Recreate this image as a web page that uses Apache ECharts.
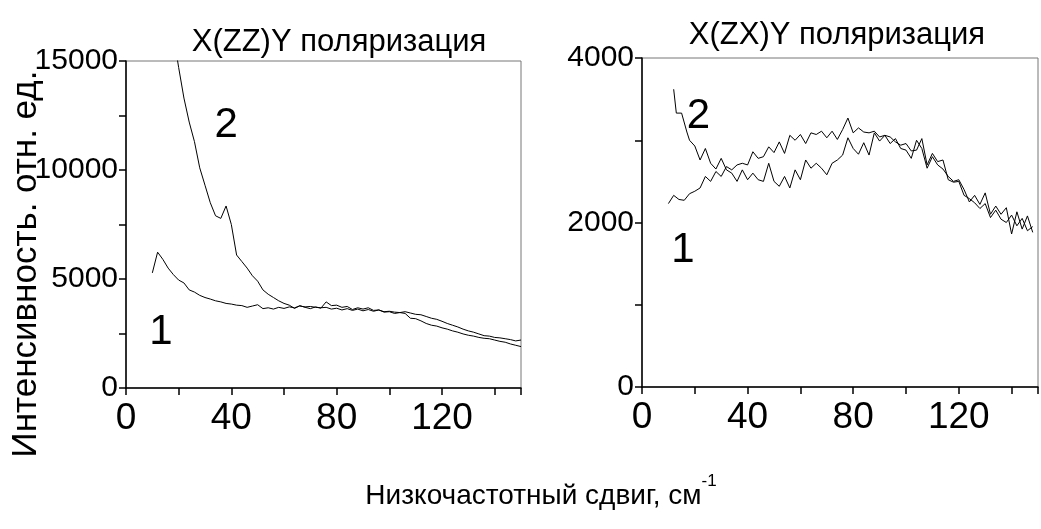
<!DOCTYPE html>
<html>
<head>
<meta charset="utf-8">
<script src="https://cdn.jsdelivr.net/npm/echarts@6/dist/echarts.min.js"></script>
<style>
  html, body { margin: 0; padding: 0; background: #fff; }
  #chart { width: 1041px; height: 529px; }
</style>
</head>
<body>
<div id="chart"></div>
<script>
// left panel, X(ZZ)Y
const leftX1 = [10, 12, 14, 16, 18, 20, 22, 24, 26, 28, 30, 32, 34, 36, 38, 40, 42, 44, 46, 48, 50,
  52, 54, 56, 58, 60, 62, 64, 66, 68, 70, 72, 74, 76, 78, 80, 82, 84, 86, 88, 90, 92, 94, 96, 98, 100,
  102, 104, 106, 108, 110, 112, 114, 116, 118, 120, 122, 124, 126, 128, 130, 132, 134, 136, 138, 140,
  142, 144, 146, 148, 150];
const leftY1 = [5280, 6230, 5900, 5500, 5200, 4950, 4820, 4500, 4400, 4250, 4150, 4080, 4000, 3950, 3880,
  3850, 3800, 3780, 3700, 3760, 3820, 3640, 3680, 3620, 3700, 3650, 3720, 3680, 3760, 3720, 3740, 3700,
  3680, 3700, 3620, 3660, 3580, 3640, 3560, 3620, 3540, 3600, 3520, 3580, 3500, 3520, 3480, 3460, 3420,
  3200, 3180, 3080, 2960, 2880, 2840, 2760, 2700, 2620, 2560, 2480, 2420, 2380, 2320, 2280, 2260, 2200,
  2140, 2100, 2020, 1960, 1900];
const leftX2 = [18, 20, 22, 24, 26, 28, 30, 32, 34, 36, 38, 40, 42, 44, 46, 48, 50, 52, 54, 56, 58, 60,
  62, 64, 66, 68, 70, 72, 74, 76, 78, 80, 82, 84, 86, 88, 90, 92, 94, 96, 98, 100, 102, 104, 106, 108,
  110, 112, 114, 116, 118, 120, 122, 124, 126, 128, 130, 132, 134, 136, 138, 140, 142, 144, 146, 148, 150];
const leftY2 = [16200, 14700, 13300, 12200, 11300, 10100, 9300, 8500, 7900, 7780, 8350, 7500, 6100, 5800,
  5500, 5150, 4900, 4500, 4300, 4150, 4000, 3880, 3800, 3650, 3780, 3700, 3640, 3720, 3660, 3950, 3780,
  3800, 3700, 3740, 3600, 3680, 3620, 3680, 3560, 3580, 3480, 3500, 3420, 3460, 3500, 3440, 3380, 3360,
  3280, 3200, 3150, 3060, 2960, 2880, 2800, 2700, 2620, 2560, 2480, 2400, 2380, 2320, 2300, 2260, 2220,
  2160, 2200];

// right panel, X(ZX)Y
const rightX1 = [10, 12, 14, 16, 18, 20, 22, 24, 26, 28, 30, 32, 34, 36, 38, 40, 42, 44, 46, 48, 50,
  52, 54, 56, 58, 60, 62, 64, 66, 68, 70, 72, 74, 76, 78, 80, 82, 84, 86, 88, 90, 92, 94, 96, 98, 100,
  102, 104, 106, 108, 110, 112, 114, 116, 118, 120, 122, 124, 126, 128, 130, 132, 134, 136, 138, 140,
  142, 144, 146, 148];
const rightY1 = [2230, 2330, 2280, 2270, 2350, 2380, 2420, 2560, 2500, 2620, 2560, 2680, 2640, 2700, 2720,
  2700, 2860, 2780, 2800, 2920, 2850, 2980, 2840, 3060, 3000, 3070, 2960, 3090, 3070, 3110, 3030, 3110,
  3010, 3130, 3270, 3090, 3150, 3100, 3090, 3110, 3040, 3060, 3040, 2980, 2940, 2960, 2870, 2880, 3020,
  2700, 2840, 2740, 2760, 2520, 2490, 2500, 2330, 2290, 2240, 2170, 2230, 2060, 2150, 2040, 2000, 2090,
  1960, 2050, 1900, 1950];
const rightX2 = [12, 13, 15, 17, 18, 20, 22, 24, 26, 28, 30, 32, 34, 36, 38, 40, 42, 44, 46, 48, 50,
  52, 54, 56, 58, 60, 62, 64, 66, 68, 70, 72, 74, 76, 78, 80, 82, 84, 86, 88, 90, 92, 94, 96, 98, 100,
  102, 104, 106, 108, 110, 112, 114, 116, 118, 120, 122, 124, 126, 128, 130, 132, 134, 136, 138, 140,
  142, 144, 146, 148];
const rightY2 = [3620, 3330, 3330, 3100, 3000, 2930, 2760, 2900, 2720, 2650, 2780, 2640, 2600, 2500, 2640,
  2520, 2600, 2520, 2500, 2720, 2500, 2440, 2560, 2420, 2640, 2520, 2760, 2660, 2720, 2660, 2580, 2720,
  2760, 2820, 3030, 2900, 2830, 2970, 2820, 3090, 2990, 3060, 2960, 3020, 2900, 2880, 2780, 3000, 2900,
  2660, 2800, 2700, 2650, 2560, 2500, 2520, 2400, 2250, 2330, 2220, 2360, 2100, 2200, 2100, 2180, 1860,
  2130, 1920, 2080, 1880];

// curve numbers, in data coords [x, y, text]
const leftMarks = [[38, 12050, '2'], [13.3, 2560, '1']];
const rightMarks = [[21.4, 3290, '2'], [15.5, 1660, '1']];

const FONT = "'Liberation Sans', Arial, sans-serif";
const zip = (xs, ys) => xs.map((x, i) => [x, ys[i]]);

const markOpt = marks => ({
  symbol: 'circle',
  symbolSize: 0,
  data: marks.map(m => ({ coord: [m[0], m[1]], value: m[2] })),
  label: { show: true, position: 'inside', formatter: p => p.value, color: '#000', fontSize: 42, fontFamily: FONT }
});

const xAxisOpt = gridIndex => ({
  type: 'value', gridIndex, min: 0, max: 150, interval: 20,
  axisLine: { lineStyle: { color: '#000', width: 1.5 } },
  axisTick: { length: 7, lineStyle: { color: '#000', width: 1.5 } },
  axisLabel: {
    color: '#000', fontSize: 37, fontFamily: FONT, margin: 12,
    formatter: v => (v % 40 === 0 ? v : '')
  },
  splitLine: { show: false }
});

const yAxisOpt = (gridIndex, max, interval, labelStep) => ({
  type: 'value', gridIndex, min: 0, max, interval,
  axisLine: { show: true, lineStyle: { color: '#000', width: 1.5 } },
  axisTick: { show: true, length: 7, lineStyle: { color: '#000', width: 1.5 } },
  axisLabel: {
    color: '#000', fontSize: 30, fontFamily: FONT, margin: 8,
    formatter: v => (v % labelStep === 0 ? v : '')
  },
  splitLine: { show: false }
});

const lineOpt = (idx, data, marks) => ({
  type: 'line', xAxisIndex: idx, yAxisIndex: idx, data, showSymbol: false, silent: true,
  lineStyle: { color: '#000', width: 1 }, clip: true,
  markPoint: marks ? markOpt(marks) : undefined
});

const chart = echarts.init(document.getElementById('chart'));
chart.setOption({
  animation: false,
  backgroundColor: '#fff',
  title: [
    { text: 'X(ZZ)Y поляризация', left: 334, top: 22, textAlign: 'center',
      textStyle: { fontSize: 31, fontWeight: 'normal', color: '#000', fontFamily: FONT } },
    { text: 'X(ZX)Y поляризация', left: 832, top: 15, textAlign: 'center',
      textStyle: { fontSize: 31, fontWeight: 'normal', color: '#000', fontFamily: FONT } }
  ],
  grid: [
    { left: 126, top: 61, width: 395, height: 327, show: true, borderColor: '#777', borderWidth: 1 },
    { left: 642, top: 58, width: 409, height: 329, show: true, borderColor: '#777', borderWidth: 1 }
  ],
  xAxis: [xAxisOpt(0), xAxisOpt(1)],
  yAxis: [yAxisOpt(0, 15000, 2500, 5000), yAxisOpt(1, 4000, 1000, 2000)],
  series: [
    lineOpt(0, zip(leftX1, leftY1), leftMarks),
    lineOpt(0, zip(leftX2, leftY2)),
    lineOpt(1, zip(rightX1, rightY1), rightMarks),
    lineOpt(1, zip(rightX2, rightY2))
  ],
  graphic: [
    { type: 'text', x: 26, y: 264, rotation: Math.PI / 2,
      style: { text: 'Интенсивность. отн. ед.', fontSize: 35, fontFamily: FONT, fill: '#000',
        align: 'center', verticalAlign: 'middle' } },
    { type: 'text', x: 541, y: 496,
      style: {
        text: '{a|Низкочастотный сдвиг, см}{b|-1}', align: 'center', verticalAlign: 'middle',
        rich: {
          a: { fontSize: 28, fontFamily: FONT, fill: '#000' },
          b: { fontSize: 17, fontFamily: FONT, fill: '#000', padding: [0, 0, 30, 0] }
        }
      } }
  ]
});
</script>
</body>
</html>
